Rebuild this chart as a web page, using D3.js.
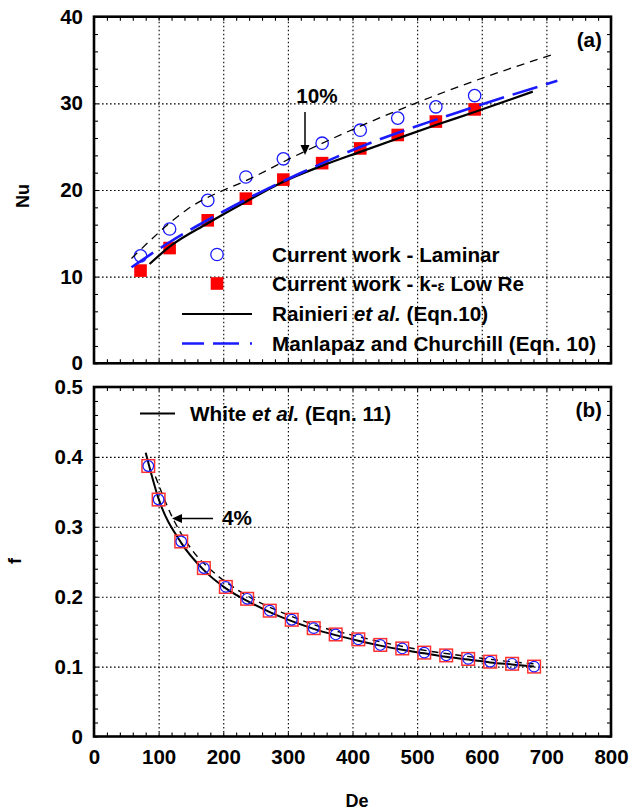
<!DOCTYPE html>
<html><head><meta charset="utf-8">
<script src="https://cdn.jsdelivr.net/npm/d3@7"></script>
<style>
body{margin:0;background:#fff}
text{font-family:"Liberation Sans",Arial,sans-serif;font-weight:bold;fill:#000}
</style>
</head><body>
<svg id="c" width="639" height="811"></svg>
<script>
// ---------- data ----------
const xTicks = [0,100,200,300,400,500,600,700,800];
const nuTicks = [0,10,20,30,40];
const fTicks = [0,0.1,0.2,0.3,0.4,0.5];

// panel (a)
const deNu = [72,117,176,235,293,353,412,470,529,589];
const nuLaminar = [12.4,15.5,18.8,21.5,23.6,25.4,26.9,28.3,29.6,30.9];
const nuKeps = [10.7,13.3,16.5,19.0,21.2,23.1,24.8,26.35,27.9,29.3];
const deRainieri = [86,117,176,235,293,353,412,470,529,589,679];
const nuRainieri = [11.46,13.46,16.16,18.65,20.96,22.8,24.4,25.95,27.5,29.0,31.35];
const deManlapaz = [58,118,195,319,407,582,717];
const nuManlapaz = [11.08,14.03,17.31,21.93,24.81,29.43,32.6];
const de10pct = [58,143,247,308,407,567,712];
const nu10pct = [12.1,17.7,21.5,23.8,27.2,32.0,35.7];

// panel (b)
const deF = [84,100,135,170,204,237,272,306,340,374,409,443,477,511,545,579,613,647,681];
const fLaminar = [0.387,0.339,0.279,0.241,0.214,0.197,0.180,0.167,0.155,0.146,0.139,0.131,0.126,0.120,0.116,0.111,0.107,0.104,0.100];
const fKeps = [0.387,0.339,0.279,0.241,0.214,0.197,0.180,0.167,0.155,0.146,0.139,0.131,0.126,0.120,0.116,0.111,0.107,0.104,0.100];
const deWhite = [80,100,135,170,204,237,272,306,340,374,409,443,477,511,545,579,613,647,681];
const fWhite = [0.406,0.340,0.277,0.238,0.212,0.194,0.178,0.165,0.154,0.145,0.137,0.130,0.124,0.119,0.114,0.110,0.106,0.103,0.100];
const de4pct = [95,120,150,185,220,260,300,350,400,450,500,550,600,650,680];
const f4pct = [0.372,0.316,0.269,0.235,0.211,0.190,0.174,0.157,0.145,0.134,0.125,0.118,0.112,0.1065,0.104];

// ---------- drawing ----------
const svg = d3.select("#c");
svg.append("rect").attr("width",639).attr("height",811).attr("fill","#fff");
const X0=94, X1=611;
const x = d3.scaleLinear().domain([0,800]).range([X0,X1]);
const yA = d3.scaleLinear().domain([0,40]).range([363.3,16.7]);
const yB = d3.scaleLinear().domain([0,0.5]).range([736.5,387]);
const BLUE="#1a1aff", RED="#ff0000";
const TF = 20.5, LF = 20.7;

function frame(y, major, minorStep, fmt, showX){
  const [yb, yt] = y.range();
  const g = svg.append("g");
  const clean = s => { s.select(".domain").remove(); };
  g.append("g").attr("transform",`translate(0,${yb})`)
    .call(d3.axisBottom(x).tickValues(xTicks.slice(1,-1)).tickSize(-(yb-yt)).tickFormat(""))
    .call(clean).selectAll("line").attr("stroke","#000").attr("stroke-width",1.1).attr("stroke-dasharray","1.6,2.4");
  g.append("g").attr("transform",`translate(${X0},0)`)
    .call(d3.axisLeft(y).tickValues(major.slice(1,-1)).tickSize(-(X1-X0)).tickFormat(""))
    .call(clean).selectAll("line").attr("stroke","#000").attr("stroke-width",1.1).attr("stroke-dasharray","1.6,2.4");
  const xMinor = d3.range(0,801,20);
  const [d0,d1] = y.domain();
  const yMinor = d3.range(0, Math.round((d1-d0)/minorStep)+1).map(i=>d0+i*minorStep);
  const tk = (axis, tr) => g.append("g").attr("transform",tr).call(axis).call(clean)
      .selectAll("line").attr("stroke","#000").attr("stroke-width",1.1);
  tk(d3.axisBottom(x).tickValues(xMinor).tickSize(-4).tickFormat(""), `translate(0,${yb})`);
  tk(d3.axisTop(x).tickValues(xMinor).tickSize(-4).tickFormat(""), `translate(0,${yt})`);
  tk(d3.axisLeft(y).tickValues(yMinor).tickSize(-4).tickFormat(""), `translate(${X0},0)`);
  tk(d3.axisRight(y).tickValues(yMinor).tickSize(-4).tickFormat(""), `translate(${X1},0)`);
  const yl = g.append("g").attr("transform",`translate(${X0},0)`)
    .call(d3.axisLeft(y).tickValues(major).tickSize(0).tickPadding(11).tickFormat(fmt)).call(clean);
  yl.selectAll("text").attr("font-size",TF).style("font-family",'"Liberation Sans",Arial,sans-serif').style("font-weight","bold");
  if(showX){
    const xl = g.append("g").attr("transform",`translate(0,${yb})`)
      .call(d3.axisBottom(x).tickValues(xTicks).tickSize(0).tickPadding(13).tickFormat(d3.format("d"))).call(clean);
    xl.selectAll("text").attr("font-size",TF).style("font-family",'"Liberation Sans",Arial,sans-serif').style("font-weight","bold");
  }
  g.append("rect").attr("x",X0).attr("y",yt).attr("width",X1-X0).attr("height",yb-yt)
    .attr("fill","none").attr("stroke","#000").attr("stroke-width",2.6);
}

frame(yA, nuTicks, 2, d=>d, false);
frame(yB, fTicks, 0.02, d=> d===0 ? "0" : d.toFixed(1), true);

function line(xs, ys, y, color, w, dash){
  const pts = xs.map((d,i)=>[d,ys[i]]);
  const p = svg.append("path").datum(pts)
    .attr("d", d3.line().x(d=>x(d[0])).y(d=>y(d[1])).curve(d3.curveMonotoneX))
    .attr("fill","none").attr("stroke",color).attr("stroke-width",w);
  if(dash) p.attr("stroke-dasharray",dash);
}

// ---- panel (a) ----
svg.append("g").selectAll("rect").data(deNu).join("rect")
  .attr("x",(d)=>x(d)-6.3).attr("y",(d,i)=>yA(nuKeps[i])-6.3).attr("width",12.6).attr("height",12.6).attr("fill",RED);
svg.append("g").selectAll("circle").data(deNu).join("circle")
  .attr("cx",d=>x(d)).attr("cy",(d,i)=>yA(nuLaminar[i])).attr("r",6.2)
  .attr("fill","none").attr("stroke",BLUE).attr("stroke-width",1.3);
line(de10pct, nu10pct, yA, "#000", 1.3, "8,6");
line(deRainieri, nuRainieri, yA, "#000", 2.2);
line(deManlapaz, nuManlapaz, yA, BLUE, 2.6, "26,9");

svg.append("text").attr("x",317).attr("y",103).attr("text-anchor","middle").attr("font-size",LF).text("10%");
svg.append("line").attr("x1",305).attr("y1",112).attr("x2",305).attr("y2",147).attr("stroke","#000").attr("stroke-width",1.5);
svg.append("path").attr("d","M300.5,145 L309.5,145 L305,155 Z").attr("fill","#000");
svg.append("text").attr("x",602).attr("y",47).attr("text-anchor","end").attr("font-size",LF).text("(a)");

// legend (a)
const lgX = 272, lgS0=182, lgS1=252;
svg.append("circle").attr("cx",217).attr("cy",254.5).attr("r",6.2).attr("fill","none").attr("stroke",BLUE).attr("stroke-width",1.3);
svg.append("rect").attr("x",217-6.3).attr("y",283.5-6.3).attr("width",12.6).attr("height",12.6).attr("fill",RED);
svg.append("line").attr("x1",lgS0).attr("x2",lgS1).attr("y1",314).attr("y2",314).attr("stroke","#000").attr("stroke-width",2.2);
svg.append("line").attr("x1",lgS0).attr("x2",lgS1).attr("y1",343.5).attr("y2",343.5).attr("stroke",BLUE).attr("stroke-width",2.6).attr("stroke-dasharray","22,9,26,11");
const lt = (yy)=>svg.append("text").attr("x",lgX).attr("y",yy).attr("dy","0.36em").attr("font-size",LF);
lt(254.5).text("Current work - Laminar");
const t2 = lt(283.5); t2.append("tspan").text("Current work - k-"); t2.append("tspan").attr("font-size",15).text("ε"); t2.append("tspan").text(" Low Re");
const t3 = lt(314); t3.append("tspan").text("Rainieri "); t3.append("tspan").attr("font-style","italic").text("et al."); t3.append("tspan").text(" (Eqn.10)");
lt(343.5).text("Manlapaz and Churchill (Eqn. 10)");

// ---- panel (b) ----
line(deWhite, fWhite, yB, "#000", 2.0);
line(de4pct, f4pct, yB, "#000", 1.4, "7,5");
svg.append("g").selectAll("rect").data(deF).join("rect")
  .attr("x",d=>x(d)-6.3).attr("y",(d,i)=>yB(fKeps[i])-6.3).attr("width",12.6).attr("height",12.6)
  .attr("fill","none").attr("stroke","#ff3030").attr("stroke-width",1.5);
svg.append("g").selectAll("circle").data(deF).join("circle")
  .attr("cx",d=>x(d)).attr("cy",(d,i)=>yB(fLaminar[i])).attr("r",5.3)
  .attr("fill","none").attr("stroke",BLUE).attr("stroke-width",1.2);

svg.append("text").attr("x",222).attr("y",525).attr("font-size",LF).text("4%");
svg.append("line").attr("x1",213).attr("y1",518.5).attr("x2",180).attr("y2",518.5).attr("stroke","#000").attr("stroke-width",1.5);
svg.append("path").attr("d","M172,518.5 L182,514 L182,523 Z").attr("fill","#000");
svg.append("text").attr("x",602).attr("y",417).attr("text-anchor","end").attr("font-size",LF).text("(b)");

svg.append("line").attr("x1",140).attr("x2",175).attr("y1",413.5).attr("y2",413.5).attr("stroke","#000").attr("stroke-width",2);
const tw = svg.append("text").attr("x",190).attr("y",413.5).attr("dy","0.36em").attr("font-size",LF);
tw.append("tspan").text("White "); tw.append("tspan").attr("font-style","italic").text("et al."); tw.append("tspan").text(" (Eqn. 11)");

// axis titles
svg.append("text").attr("transform","translate(29,196) rotate(-90)").attr("text-anchor","middle").attr("font-size",18).text("Nu");
svg.append("text").attr("transform","translate(21,561) rotate(-90)").attr("text-anchor","middle").attr("font-size",18).text("f");
svg.append("text").attr("x",357).attr("y",807).attr("text-anchor","middle").attr("font-size",18).text("De");
</script>
</body></html>
